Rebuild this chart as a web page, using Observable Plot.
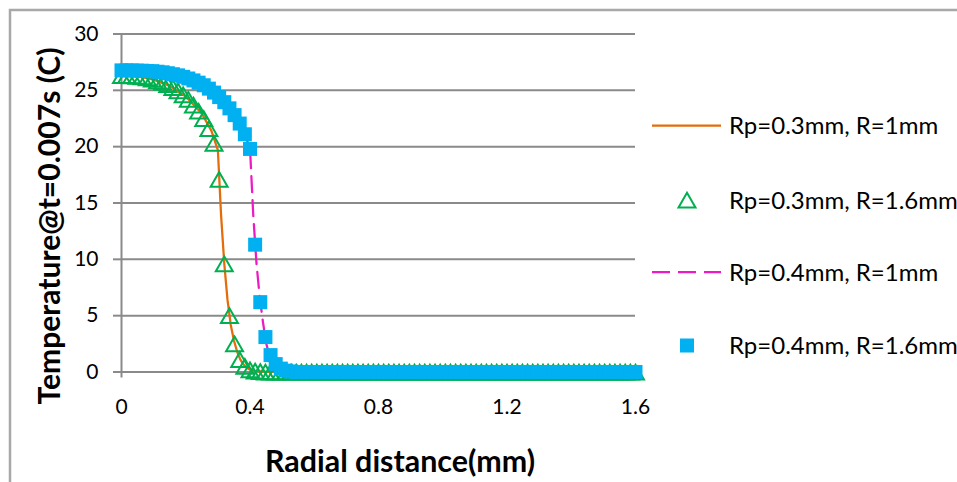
<!DOCTYPE html>
<html>
<head>
<meta charset="utf-8">
<script src="https://cdn.jsdelivr.net/npm/d3@7"></script>
<script src="https://cdn.jsdelivr.net/npm/@observablehq/plot@0.6"></script>
<style>
  html, body { margin: 0; padding: 0; background: #fff; }
  #chart { width: 957px; height: 482px; overflow: hidden; position: relative; }
  #chart svg { display: block; }
</style>
</head>
<body>
<div id="chart"></div>
<script>
// Sampling step of the R = 1.6 mm runs (101 points from 0 to 1.6 mm)
const rStep = 0.016;

// Rp = 0.3 mm, R = 1.6 mm : temperature at t = 0.007 s
const tempRp03R16 = [
  26.3, 26.3, 26.28, 26.25, 26.2, 26.1, 26.0, 25.85, 25.7, 25.5,
  25.25, 24.95, 24.6, 24.2, 23.7, 23.15, 22.5, 21.6, 20.3, 17.1,
  9.6, 5.0, 2.5, 1.1, 0.5, 0.2, 0.08, 0.03, 0, 0,
  0, 0, 0, 0, 0, 0, 0, 0, 0, 0,
  0, 0, 0, 0, 0, 0, 0, 0, 0, 0,
  0, 0, 0, 0, 0, 0, 0, 0, 0, 0,
  0, 0, 0, 0, 0, 0, 0, 0, 0, 0,
  0, 0, 0, 0, 0, 0, 0, 0, 0, 0,
  0, 0, 0, 0, 0, 0, 0, 0, 0, 0,
  0, 0, 0, 0, 0, 0, 0, 0, 0, 0,
  0
];

// Rp = 0.4 mm, R = 1.6 mm
const tempRp04R16 = [
  26.77, 26.77, 26.76, 26.75, 26.74, 26.72, 26.7, 26.65, 26.6, 26.52,
  26.43, 26.33, 26.2, 26.05, 25.88, 25.68, 25.45, 25.15, 24.8, 24.4,
  23.95, 23.4, 22.8, 22.05, 21.1, 19.8, 11.3, 6.2, 3.1, 1.5,
  0.7, 0.3, 0.12, 0.05, 0, 0, 0, 0, 0, 0,
  0, 0, 0, 0, 0, 0, 0, 0, 0, 0,
  0, 0, 0, 0, 0, 0, 0, 0, 0, 0,
  0, 0, 0, 0, 0, 0, 0, 0, 0, 0,
  0, 0, 0, 0, 0, 0, 0, 0, 0, 0,
  0, 0, 0, 0, 0, 0, 0, 0, 0, 0,
  0, 0, 0, 0, 0, 0, 0, 0, 0, 0,
  0
];

// Rp = 0.3 mm, R = 1 mm (solid line)
const rRp03R1 = [0, 0.05, 0.1, 0.15, 0.2, 0.25, 0.28, 0.30, 0.31, 0.32, 0.33, 0.34, 0.35,
                 0.36, 0.37, 0.38, 0.39, 0.40, 0.42, 0.45, 0.5, 0.6, 0.7, 0.8, 0.9, 1.0];
const tempRp03R1 = [26.3, 26.25, 25.95, 25.4, 24.45, 22.95, 21.4, 19.7, 13.9, 9.6, 6.4, 4.2, 2.8,
                    1.8, 1.1, 0.65, 0.4, 0.2, 0.08, 0.02, 0, 0, 0, 0, 0, 0];

// Rp = 0.4 mm, R = 1 mm (dashed line)
const rRp04R1 = [0, 0.05, 0.1, 0.15, 0.2, 0.25, 0.3, 0.35, 0.38, 0.40, 0.41, 0.42, 0.43,
                 0.44, 0.45, 0.46, 0.47, 0.48, 0.5, 0.52, 0.55, 0.6, 0.7, 0.8, 0.9, 1.0];
const tempRp04R1 = [26.8, 26.75, 26.68, 26.5, 26.2, 25.55, 24.45, 22.6, 21.3, 19.9, 14.0, 9.7, 6.7,
                    4.5, 2.6, 1.5, 0.9, 0.5, 0.2, 0.08, 0.02, 0, 0, 0, 0, 0];

const seriesNames = ["Rp=0.3mm, R=1mm", "Rp=0.3mm, R=1.6mm", "Rp=0.4mm, R=1mm", "Rp=0.4mm, R=1.6mm"];
const xTicks = [0, 0.4, 0.8, 1.2, 1.6];
const yTicks = [0, 5, 10, 15, 20, 25, 30];
const xTitle = "Radial distance(mm)";
const yTitle = "Temperature@t=0.007s (C)";

// Tables for the marks
const tri = tempRp03R16.map((t, i) => ({r: i * rStep, t}));
const sq = tempRp04R16.map((t, i) => ({r: i * rStep, t}));
const solid = rRp03R1.map((r, i) => ({r, t: tempRp03R1[i]}));
const dashed = rRp04R1.map((r, i) => ({r, t: tempRp04R1[i]}));

const gray = "#8a8a8a";
const orange = "#e46c0a";
const green = "#00b050";
const pink = "#ee1ac4";
const blue = "#00b0f0";
const font = "Lato, 'Open Sans', sans-serif";

const chart = Plot.plot({
  width: 957,
  height: 482,
  marginLeft: 121,
  marginRight: 322,
  marginTop: 33.5,
  marginBottom: 110.5,
  style: {fontFamily: font, background: "#fff", color: "#000"},
  x: {domain: [0, 1.6], axis: null},
  y: {domain: [0, 30], axis: null},
  marks: [
    Plot.ruleY(yTicks, {stroke: gray, strokeWidth: 2}),
    Plot.ruleX([0], {stroke: gray, strokeWidth: 2}),
    Plot.axisY({ticks: yTicks, tickSize: 8, tickPadding: 15, stroke: gray, strokeWidth: 2,
      fill: "#000", fontSize: 21, label: null, tickFormat: d => String(d)}),
    Plot.axisX({ticks: xTicks, tickSize: 6, tickPadding: 21, stroke: gray, strokeWidth: 2,
      fill: "#000", fontSize: 21, label: null, tickFormat: d => String(d)}),
    Plot.line(solid, {x: "r", y: "t", stroke: orange, strokeWidth: 2.25}),
    Plot.dot(tri, {x: "r", y: "t", symbol: "triangle", r: 6.3, dy: 2.5,
      stroke: green, strokeWidth: 2, fill: "none"}),
    Plot.line(dashed, {x: "r", y: "t", stroke: pink, strokeWidth: 2.25, strokeDasharray: "16,8"}),
    Plot.dot(sq, {x: "r", y: "t", symbol: "square", r: 7.9, fill: blue, stroke: "none"})
  ]
});

const svg = d3.select(chart);

// Chart-area frame (runs past the right and bottom edges)
svg.insert("rect", ":first-child")
  .attr("x", 10).attr("y", 10).attr("width", 1000).attr("height", 500)
  .attr("fill", "none").attr("stroke", "#a8a8a8").attr("stroke-width", 2.5);

// Axis titles
svg.append("text")
  .attr("x", 400).attr("y", 472)
  .attr("text-anchor", "middle")
  .attr("font-family", font).attr("font-weight", 700).attr("font-size", 30)
  .attr("textLength", 270).attr("lengthAdjust", "spacingAndGlyphs")
  .text(xTitle);

svg.append("text")
  .attr("transform", "translate(60,226) rotate(-90)")
  .attr("text-anchor", "middle")
  .attr("font-family", font).attr("font-weight", 700).attr("font-size", 30)
  .attr("textLength", 357).attr("lengthAdjust", "spacingAndGlyphs")
  .text(yTitle);

// Legend
const legend = svg.append("g")
  .attr("font-family", font).attr("font-size", 24).attr("text-anchor", "start");
const rows = [125.5, 200, 272, 345.5];
const keyX0 = 652, keyX1 = 721, keyCx = 687, textX = 729;

legend.append("line").attr("x1", keyX0).attr("x2", keyX1).attr("y1", rows[0]).attr("y2", rows[0])
  .attr("stroke", orange).attr("stroke-width", 2.25);
legend.append("path")
  .attr("d", d3.symbol(d3.symbolTriangle, 125)())
  .attr("transform", `translate(${keyCx},${rows[1] + 2.5})`)
  .attr("fill", "none").attr("stroke", green).attr("stroke-width", 2);
legend.append("line").attr("x1", keyX0).attr("x2", keyX1).attr("y1", rows[2]).attr("y2", rows[2])
  .attr("stroke", pink).attr("stroke-width", 2.25).attr("stroke-dasharray", "18,8");
legend.append("rect")
  .attr("x", keyCx - 7).attr("y", rows[3] - 7).attr("width", 14).attr("height", 14)
  .attr("fill", blue);

seriesNames.forEach((name, i) => {
  legend.append("text")
    .attr("x", textX).attr("y", rows[i])
    .attr("dy", "0.36em")
    .attr("fill", "#000")
    .text(name);
});

document.getElementById("chart").appendChild(chart);
</script>
</body>
</html>
